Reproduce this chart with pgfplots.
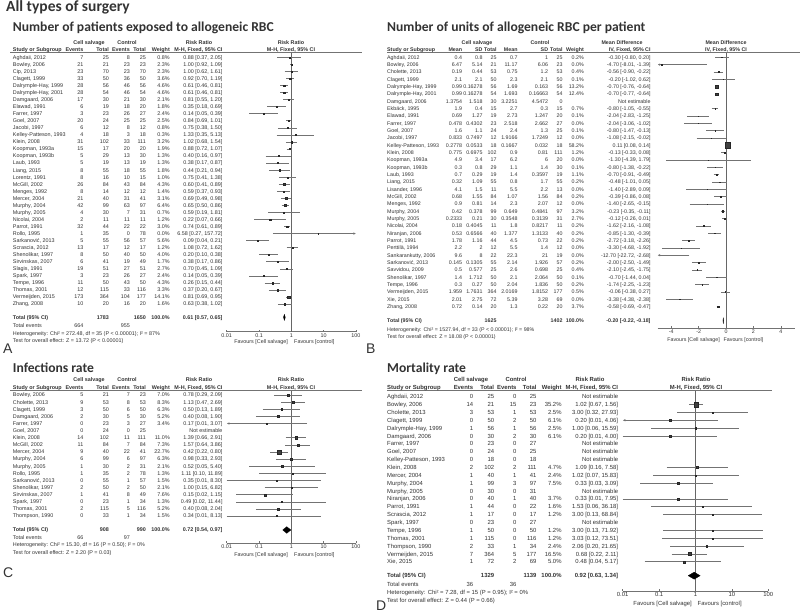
\documentclass[border=0pt]{standalone}
\usepackage{fontspec}
\setmainfont{Liberation Sans}
\newfontfamily\titlefont{Carlito}
\usepackage{pgfplots}
\pgfplotsset{compat=1.18}
\usetikzlibrary{arrows.meta}

\newcounter{rowi}
\newcommand\fA{\fontsize{5.4}{6}\selectfont}
\newcommand\fB{\fontsize{5.3}{6}\selectfont}
\newcommand\fD{\fontsize{5.9}{6.6}\selectfont}
\newcommand\ttl[2][13.6]{{\titlefont\bfseries\fontsize{#1}{#1}\selectfont #2}}

% risk ratio row: name, events, total, events, total, weight, CI
\newcommand\rr[7]{\stepcounter{rowi}%
  \pgfmathsetmacro\yy{\yz+(\therowi-1)*\pz+\bsh}%
  \node[anchor=base west] at (\cN,\yy) {#1};
  \node[anchor=base east] at (\cA,\yy) {#2};
  \node[anchor=base east] at (\cB,\yy) {#3};
  \node[anchor=base east] at (\cC,\yy) {#4};
  \node[anchor=base east] at (\cD,\yy) {#5};
  \node[anchor=base east] at (\cE,\yy) {#6};
  \node[anchor=base east] at (\cF,\yy) {#7};}
% mean difference row: name, mean, sd, total, mean, sd, total, weight, CI
\newcommand\md[9]{\stepcounter{rowi}%
  \pgfmathsetmacro\yy{\yz+(\therowi-1)*\pz+\bsh}%
  \node[anchor=base west] at (\cN,\yy) {#1};
  \node[anchor=base east] at (\cA,\yy) {#2};
  \node[anchor=base east] at (\cB,\yy) {#3};
  \node[anchor=base east] at (\cC,\yy) {#4};
  \node[anchor=base east] at (\cD,\yy) {#5};
  \node[anchor=base east] at (\cE,\yy) {#6};
  \node[anchor=base east] at (\cF,\yy) {#7};
  \node[anchor=base east] at (\cG,\yy) {#8};
  \node[anchor=base east] at (\cH,\yy) {#9};}

\pgfplotsset{
  forest/.style={scale only axis, clip=false, anchor=south west,
    axis x line*=bottom, axis y line=none, x axis line style={-},
    axis line style={black!55, line width=0.6pt},
    every tick/.style={black!55, line width=0.5pt}, major tick length=2pt, tick align=inside,
    ytick=\empty, unbounded coords=jump,
    xticklabel style={inner sep=0pt, text=black!80, yshift=-1.5pt}},
  ci/.style={black!55, line width=0.55pt, mark=none},
  arr/.style={black!55, line width=0.55pt, mark=none, -{Latex[length=2.6pt,width=2.4pt]}},
  nul/.style={black!60, line width=0.6pt, mark=none},
  sq/.style={scatter, only marks, mark=square*,
    scatter/use mapped color={draw=black!85, fill=black!75},
    mark options={line width=0.2pt},
    visualization depends on={0.15+0.33*sqrt(\thisrow{w}) \as \ms},
    scatter/@pre marker code/.append style={/tikz/mark size=\ms}},
  dia/.style={fill=black, draw=black, line width=0.3pt, mark=none},
}

\begin{document}
\begin{tikzpicture}
\useasboundingbox (0,0) rectangle (800pt,-615pt);

% ---------------- A: patients exposed ----------------
\begin{axis}[forest, xmode=log, at={(226.7pt,-331.7pt)}, width=129.3pt, height=279.7pt,
  xmin=0.01, xmax=100, ymin=-39.92, ymax=-0.248, xminorticks=false,
  xtick={0.01,0.1,1,10,100}, xticklabels={0.01,0.1,1,10,100},
  xticklabel style={font=\fA}]
\addplot[nul] coordinates {(1,-0.248) (1,-39.92)};
\addplot[ci] coordinates {
 (0.37,-1) (2.05,-1) (nan,nan) (0.92,-2) (1.09,-2) (nan,nan) (0.62,-3) (1.61,-3) (nan,nan)
 (0.70,-4) (1.19,-4) (nan,nan) (0.46,-5) (0.81,-5) (nan,nan) (0.46,-6) (0.81,-6) (nan,nan)
 (0.55,-7) (1.20,-7) (nan,nan) (0.18,-8) (0.69,-8) (nan,nan) (0.05,-9) (0.39,-9) (nan,nan)
 (0.69,-10) (1.01,-10) (nan,nan) (0.38,-11) (1.50,-11) (nan,nan) (0.35,-12) (5.13,-12) (nan,nan)
 (0.68,-13) (1.54,-13) (nan,nan) (0.72,-14) (1.07,-14) (nan,nan) (0.16,-15) (0.97,-15) (nan,nan)
 (0.17,-16) (0.87,-16) (nan,nan) (0.21,-17) (0.94,-17) (nan,nan) (0.41,-18) (1.38,-18) (nan,nan)
 (0.41,-19) (0.89,-19) (nan,nan) (0.37,-20) (0.93,-20) (nan,nan) (0.49,-21) (0.98,-21) (nan,nan)
 (0.50,-22) (0.86,-22) (nan,nan) (0.19,-23) (1.81,-23) (nan,nan) (0.07,-24) (0.66,-24) (nan,nan)
 (0.61,-25) (0.89,-25) (nan,nan) (0.04,-27) (0.21,-27) (nan,nan) (0.72,-28) (1.62,-28) (nan,nan)
 (0.10,-29) (0.38,-29) (nan,nan) (0.17,-30) (0.86,-30) (nan,nan) (0.45,-31) (1.09,-31) (nan,nan)
 (0.05,-32) (0.39,-32) (nan,nan) (0.15,-33) (0.44,-33) (nan,nan) (0.20,-34) (0.67,-34) (nan,nan)
 (0.69,-35) (0.95,-35) (nan,nan) (0.38,-36) (1.02,-36)};
\addplot[arr] coordinates {(0.27,-26) (100,-26)};
\addplot[sq] table[row sep=\\] {x y w\\
 0.88 -1 0.8\\ 1.00 -2 2.3\\ 1.00 -3 2.3\\ 0.92 -4 3.6\\ 0.61 -5 4.6\\ 0.61 -6 4.6\\
 0.81 -7 2.1\\ 0.35 -8 1.8\\ 0.14 -9 2.4\\ 0.84 -10 2.5\\ 0.75 -11 0.8\\ 1.33 -12 0.3\\
 1.02 -13 3.2\\ 0.88 -14 1.9\\ 0.40 -15 1.3\\ 0.38 -16 1.3\\ 0.44 -17 1.8\\ 0.75 -18 1.0\\
 0.60 -19 4.3\\ 0.59 -20 1.4\\ 0.69 -21 3.1\\ 0.65 -22 6.4\\ 0.59 -23 0.7\\ 0.22 -24 1.2\\
 0.74 -25 3.0\\ 6.58 -26 0.0\\ 0.09 -27 5.6\\ 1.08 -28 1.2\\ 0.20 -29 4.0\\ 0.38 -30 1.7\\
 0.70 -31 2.7\\ 0.14 -32 2.4\\ 0.26 -33 4.3\\ 0.37 -34 3.3\\ 0.81 -35 14.1\\ 0.63 -36 1.6\\};
\addplot[dia] coordinates {(0.57,-37.88) (0.61,-37.45) (0.65,-37.88) (0.61,-38.31) (0.57,-37.88)};
\end{axis}

% ---------------- B: units per patient ----------------
\begin{axis}[forest, at={(657.5pt,-328.3pt)}, width=137pt, height=276pt,
  xmin=-5, xmax=5, ymin=-37.97, ymax=-0.318,
  xtick={-4,-2,0,2,4}, xticklabels={-4,-2,0,2,4}, xticklabel style={font=\fB}]
\addplot[nul] coordinates {(0,-0.318) (0,-37.97)};
\addplot[ci] coordinates {
 (-0.80,-1) (0.20,-1) (nan,nan) (-0.90,-3) (-0.22,-3) (nan,nan) (-1.02,-4) (0.62,-4) (nan,nan)
 (-0.76,-5) (-0.64,-5) (nan,nan) (-0.77,-6) (-0.64,-6) (nan,nan) (-1.05,-8) (-0.55,-8) (nan,nan)
 (-2.83,-9) (-1.25,-9) (nan,nan) (-3.06,-10) (-1.02,-10) (nan,nan) (-1.47,-11) (-0.13,-11) (nan,nan)
 (-2.15,-12) (-0.02,-12) (nan,nan) (0.08,-13) (0.14,-13) (nan,nan) (-0.33,-14) (0.08,-14) (nan,nan)
 (-4.39,-15) (1.79,-15) (nan,nan) (-1.38,-16) (-0.22,-16) (nan,nan) (-0.91,-17) (-0.49,-17) (nan,nan)
 (-1.01,-18) (0.05,-18) (nan,nan) (-2.89,-19) (0.09,-19) (nan,nan) (-0.86,-20) (0.08,-20) (nan,nan)
 (-2.65,-21) (-0.15,-21) (nan,nan) (-0.35,-22) (-0.11,-22) (nan,nan) (-0.26,-23) (0.01,-23) (nan,nan)
 (-2.16,-24) (-1.08,-24) (nan,nan) (-1.30,-25) (-0.39,-25) (nan,nan) (-3.18,-26) (-2.26,-26) (nan,nan)
 (-4.68,-27) (-1.92,-27) (nan,nan) (-2.50,-29) (-1.49,-29) (nan,nan) (-2.45,-30) (-1.75,-30) (nan,nan)
 (-1.44,-31) (0.04,-31) (nan,nan) (-2.25,-32) (-1.23,-32) (nan,nan) (-0.38,-33) (0.27,-33) (nan,nan)
 (-4.38,-34) (-2.38,-34) (nan,nan) (-0.69,-35) (-0.47,-35)};
\addplot[arr] coordinates {(-1.39,-2) (-5,-2)};
\addplot[arr] coordinates {(-2.68,-28) (-5,-28)};
\addplot[sq] table[row sep=\\] {x y w\\
 -0.30 -1 0.2\\ -4.70 -2 0.0\\ -0.56 -3 0.4\\ -0.20 -4 0.1\\ -0.70 -5 13.2\\ -0.70 -6 12.4\\
 -0.80 -8 0.7\\ -2.04 -9 0.1\\ -2.04 -10 0.0\\ -0.80 -11 0.1\\ -1.08 -12 0.0\\ 0.11 -13 58.2\\
 -0.13 -14 1.2\\ -1.30 -15 0.0\\ -0.80 -16 0.1\\ -0.70 -17 1.1\\ -0.48 -18 0.2\\ -1.40 -19 0.0\\
 -0.39 -20 0.2\\ -1.40 -21 0.0\\ -0.23 -22 3.2\\ -0.12 -23 2.7\\ -1.62 -24 0.2\\ -0.85 -25 0.2\\
 -2.72 -26 0.2\\ -3.30 -27 0.0\\ -2.00 -29 0.2\\ -2.10 -30 0.4\\ -0.70 -31 0.1\\ -1.74 -32 0.2\\
 -0.06 -33 0.5\\ -3.38 -34 0.0\\ -0.58 -35 3.7\\};
\addplot[dia] coordinates {(-0.22,-36.93) (-0.20,-36.5) (-0.18,-36.93) (-0.20,-37.36) (-0.22,-36.93)};
\end{axis}

% ---------------- C: infections ----------------
\begin{axis}[forest, xmode=log, at={(226.7pt,-543.3pt)}, width=129.3pt, height=153.3pt,
  xmin=0.01, xmax=100, ymin=-21.83, ymax=-0.298, xminorticks=false,
  xtick={0.01,0.1,1,10,100}, xticklabels={0.01,0.1,1,10,100},
  xticklabel style={font=\fA}]
\addplot[nul] coordinates {(1,-0.298) (1,-21.83)};
\addplot[ci] coordinates {
 (0.29,-1) (2.09,-1) (nan,nan) (0.47,-2) (2.69,-2) (nan,nan) (0.13,-3) (1.89,-3) (nan,nan)
 (0.08,-4) (1.90,-4) (nan,nan) (0.66,-7) (2.91,-7) (nan,nan) (0.64,-8) (3.86,-8) (nan,nan)
 (0.22,-9) (0.80,-9) (nan,nan) (0.33,-10) (2.93,-10) (nan,nan) (0.05,-11) (5.40,-11) (nan,nan)
 (0.10,-12) (11.89,-12) (nan,nan) (0.01,-13) (8.30,-13) (nan,nan) (0.15,-14) (6.82,-14) (nan,nan)
 (0.02,-15) (1.15,-15) (nan,nan) (0.02,-16) (11.44,-16) (nan,nan) (0.08,-17) (2.04,-17) (nan,nan)
 (0.01,-18) (8.13,-18)};
\addplot[arr] coordinates {(3.07,-5) (0.01,-5)};
\addplot[sq] table[row sep=\\] {x y w\\
 0.78 -1 7.0\\ 1.13 -2 8.3\\ 0.50 -3 6.3\\ 0.40 -4 5.2\\ 0.17 -5 3.4\\ 1.39 -7 11.0\\
 1.57 -8 7.3\\ 0.42 -9 22.7\\ 0.98 -10 6.3\\ 0.52 -11 2.1\\ 1.11 -12 1.3\\ 0.35 -13 1.5\\
 1.00 -14 2.1\\ 0.15 -15 7.6\\ 0.49 -16 1.3\\ 0.40 -17 5.2\\ 0.34 -18 1.5\\};
\addplot[dia] coordinates {(0.54,-19.96) (0.72,-19.5) (0.97,-19.96) (0.72,-20.42) (0.54,-19.96)};
\end{axis}

% ---------------- D: mortality ----------------
\begin{axis}[forest, xmode=log, at={(622.7pt,-591pt)}, width=145.6pt, height=200.3pt,
  xmin=0.01, xmax=100, ymin=-25.72, ymax=-0.237, xminorticks=false,
  xtick={0.01,0.1,1,10,100}, xticklabels={0.01,0.1,1,10,100},
  xticklabel style={font=\fD}]
\addplot[nul] coordinates {(1,-0.237) (1,-25.72)};
\addplot[ci] coordinates {
 (0.67,-2) (1.56,-2) (nan,nan) (0.32,-3) (27.93,-3) (nan,nan) (0.06,-5) (15.59,-5) (nan,nan)
 (0.01,-6) (4.00,-6) (nan,nan) (0.16,-10) (7.58,-10) (nan,nan) (0.07,-11) (15.83,-11) (nan,nan)
 (0.03,-12) (3.09,-12) (nan,nan) (0.01,-14) (7.95,-14) (nan,nan) (0.06,-15) (36.18,-15) (nan,nan)
 (0.13,-16) (68.84,-16) (nan,nan) (0.13,-18) (71.92,-18) (nan,nan) (0.12,-19) (73.51,-19) (nan,nan)
 (0.20,-20) (21.65,-20) (nan,nan) (0.22,-21) (2.11,-21) (nan,nan) (0.04,-22) (5.17,-22)};
\addplot[arr] coordinates {(4.06,-4) (0.01,-4)};
\addplot[sq] table[row sep=\\] {x y w\\
 1.02 -2 35.2\\ 3.00 -3 2.5\\ 0.20 -4 6.1\\ 1.00 -5 2.5\\ 0.20 -6 6.1\\ 1.09 -10 4.7\\
 1.02 -11 2.4\\ 0.33 -12 7.5\\ 0.33 -14 3.7\\ 1.53 -15 1.6\\ 3.00 -16 1.2\\ 3.00 -18 1.2\\
 3.03 -19 1.2\\ 2.06 -20 2.4\\ 0.68 -21 16.5\\ 0.48 -22 5.0\\};
\addplot[dia] coordinates {(0.63,-23.77) (0.92,-23.32) (1.34,-23.77) (0.92,-24.22) (0.63,-23.77)};
\end{axis}

% ---------------- text, in pixel units (y down) ----------------
\begin{scope}[x=1pt, y=-1pt, every node/.style={inner sep=0pt, text=black!80}]
\node[anchor=base west] at (6,11.2) {\ttl[15.5]{All types of surgery}};
\node[anchor=base west] at (12.7,31.5) {\ttl{Number of patients exposed to allogeneic RBC}};
\node[anchor=base west] at (387,31.5) {\ttl{Number of units of allogeneic RBC per patient}};
\node[anchor=base west] at (12.7,372) {\ttl{Infections rate}};
\node[anchor=base west] at (387,372) {\ttl{Mortality rate}};
\begin{scope}[every node/.append style={font=\fontsize{14}{14}\selectfont}]
\node[anchor=base west] at (3,353) {A};
\node[anchor=base west] at (366,353) {B};
\node[anchor=base west] at (3,577) {C};
\node[anchor=base west] at (376,610) {D};
\end{scope}
\draw[black!55, line width=0.6pt] (10,52) -- (362,52);
\draw[black!55, line width=0.6pt] (387,52.3) -- (800,52.3);
\draw[black!55, line width=0.6pt] (10,390) -- (362,390);
\draw[black!55, line width=0.6pt] (387,390.7) -- (772,390.7);

% --- A table
\begin{scope}[every node/.append style={font=\fA}]
\def\cN{12.7}\def\cA{83.5}\def\cB{109}\def\cC{130}\def\cD{146}\def\cE{170}\def\cF{222.7}
\def\yz{57.3}\def\pz{7.05}\def\bsh{1.9}
\begin{scope}[every node/.append style={font=\fA\bfseries}]
\node[anchor=base] at (89,44.2) {Cell salvage};
\node[anchor=base] at (127,44.2) {Control};
\node[anchor=base] at (199,44.2) {Risk Ratio};
\node[anchor=base] at (291,44.2) {Risk Ratio};
\node[anchor=base west] at (\cN,51.2) {Study or Subgroup};
\node[anchor=base east] at (\cA,51.2) {Events};
\node[anchor=base east] at (\cB,51.2) {Total};
\node[anchor=base east] at (\cC,51.2) {Events};
\node[anchor=base east] at (\cD,51.2) {Total};
\node[anchor=base east] at (\cE,51.2) {Weight};
\node[anchor=base east] at (\cF,51.2) {M-H, Fixed, 95\% CI};
\node[anchor=base] at (291,51.2) {M-H, Fixed, 95\% CI};
\end{scope}
\setcounter{rowi}{0}
\rr{Aghdaii, 2012}{7}{25}{8}{25}{0.8\%}{0.88 [0.37, 2.05]}
\rr{Bowley, 2006}{21}{21}{23}{23}{2.3\%}{1.00 [0.92, 1.09]}
\rr{Cip, 2013}{23}{70}{23}{70}{2.3\%}{1.00 [0.62, 1.61]}
\rr{Clagett, 1999}{33}{50}{36}{50}{3.6\%}{0.92 [0.70, 1.19]}
\rr{Dalrymple-Hay, 1999}{28}{56}{46}{56}{4.6\%}{0.61 [0.46, 0.81]}
\rr{Dalrymple-Hay, 2001}{28}{54}{46}{54}{4.6\%}{0.61 [0.46, 0.81]}
\rr{Damgaard, 2006}{17}{30}{21}{30}{2.1\%}{0.81 [0.55, 1.20]}
\rr{Elawad, 1991}{6}{19}{18}{20}{1.8\%}{0.35 [0.18, 0.69]}
\rr{Farrer, 1997}{3}{23}{26}{27}{2.4\%}{0.14 [0.05, 0.39]}
\rr{Goel, 2007}{20}{24}{25}{25}{2.5\%}{0.84 [0.69, 1.01]}
\rr{Jacobi, 1997}{6}{12}{8}{12}{0.8\%}{0.75 [0.38, 1.50]}
\rr{Kelley-Patteson, 1993}{4}{18}{3}{18}{0.3\%}{1.33 [0.35, 5.13]}
\rr{Klein, 2008}{31}{102}{33}{111}{3.2\%}{1.02 [0.68, 1.54]}
\rr{Koopman, 1993a}{15}{17}{20}{20}{1.9\%}{0.88 [0.72, 1.07]}
\rr{Koopman, 1993b}{5}{29}{13}{30}{1.3\%}{0.40 [0.16, 0.97]}
\rr{Laub, 1993}{5}{19}{13}{19}{1.3\%}{0.38 [0.17, 0.87]}
\rr{Liang, 2015}{8}{55}{18}{55}{1.8\%}{0.44 [0.21, 0.94]}
\rr{Lorentz, 1991}{8}{16}{10}{15}{1.0\%}{0.75 [0.41, 1.38]}
\rr{McGill, 2002}{26}{84}{43}{84}{4.3\%}{0.60 [0.41, 0.89]}
\rr{Menges, 1992}{8}{14}{12}{12}{1.4\%}{0.59 [0.37, 0.93]}
\rr{Mercer, 2004}{21}{40}{31}{41}{3.1\%}{0.69 [0.49, 0.98]}
\rr{Murphy, 2004}{42}{99}{63}{97}{6.4\%}{0.65 [0.50, 0.86]}
\rr{Murphy, 2005}{4}{30}{7}{31}{0.7\%}{0.59 [0.19, 1.81]}
\rr{Nicolai, 2004}{2}{11}{11}{11}{1.2\%}{0.22 [0.07, 0.66]}
\rr{Parrot, 1991}{32}{44}{22}{22}{3.0\%}{0.74 [0.61, 0.89]}
\rr{Rollo, 1995}{1}{35}{0}{78}{0.0\%}{6.58 [0.27, 157.72]}
\rr{Sarkanović, 2013}{5}{55}{56}{57}{5.6\%}{0.09 [0.04, 0.21]}
\rr{Scrascia, 2012}{13}{17}{12}{17}{1.2\%}{1.08 [0.72, 1.62]}
\rr{Shenolikar, 1997}{8}{50}{40}{50}{4.0\%}{0.20 [0.10, 0.38]}
\rr{Sirvinskas, 2007}{6}{41}{19}{49}{1.7\%}{0.38 [0.17, 0.86]}
\rr{Slagis, 1991}{19}{51}{27}{51}{2.7\%}{0.70 [0.45, 1.09]}
\rr{Spark, 1997}{3}{23}{26}{27}{2.4\%}{0.14 [0.05, 0.39]}
\rr{Tempe, 1996}{11}{50}{43}{50}{4.3\%}{0.26 [0.15, 0.44]}
\rr{Thomas, 2001}{12}{115}{33}{116}{3.3\%}{0.37 [0.20, 0.67]}
\rr{Vermeijden, 2015}{173}{364}{104}{177}{14.1\%}{0.81 [0.69, 0.95]}
\rr{Zhang, 2008}{10}{20}{16}{20}{1.6\%}{0.63 [0.38, 1.02]}
\begin{scope}[every node/.append style={font=\fA\bfseries}]
\node[anchor=base west] at (\cN,319.2) {Total (95\% CI)};
\node[anchor=base east] at (\cB,319.2) {1783};
\node[anchor=base east] at (\cD,319.2) {1650};
\node[anchor=base east] at (\cE,319.2) {100.0\%};
\node[anchor=base east] at (\cF,319.2) {0.61 [0.57, 0.65]};
\end{scope}
\node[anchor=base west] at (\cN,327.9) {Total events};
\node[anchor=base east] at (\cA,327.9) {664};
\node[anchor=base east] at (\cC,327.9) {955};
\node[anchor=base west] at (\cN,335.2) {Heterogeneity: Chi² = 272.48, df = 35 (P < 0.00001); I² = 87\%};
\node[anchor=base west] at (\cN,342.6) {Test for overall effect: Z = 13.72 (P < 0.00001)};
\node[anchor=base east] at (288,343.6) {Favours [Cell salvage]};
\node[anchor=base west] at (294,343.6) {Favours [control]};
\end{scope}

% --- B table
\begin{scope}[every node/.append style={font=\fB}]
\def\cN{387}\def\cA{462.3}\def\cB{482.7}\def\cC{496.7}\def\cD{517.7}\def\cE{548.3}\def\cF{562.7}\def\cG{584}\def\cH{650.7}
\def\yz{57.3}\def\pz{7.33}\def\bsh{1.9}
\begin{scope}[every node/.append style={font=\fB\bfseries}]
\node[anchor=base] at (477,44.2) {Cell salvage};
\node[anchor=base] at (540,44.2) {Control};
\node[anchor=base] at (622,44.2) {Mean Difference};
\node[anchor=base] at (726,44.2) {Mean Difference};
\node[anchor=base west] at (\cN,51.2) {Study or Subgroup};
\node[anchor=base east] at (\cA,51.2) {Mean};
\node[anchor=base east] at (\cB,51.2) {SD};
\node[anchor=base east] at (\cC,51.2) {Total};
\node[anchor=base east] at (\cD,51.2) {Mean};
\node[anchor=base east] at (\cE,51.2) {SD};
\node[anchor=base east] at (\cF,51.2) {Total};
\node[anchor=base east] at (\cG,51.2) {Weight};
\node[anchor=base east] at (\cH,51.2) {IV, Fixed, 95\% CI};
\node[anchor=base] at (726,51.2) {IV, Fixed, 95\% CI};
\end{scope}
\setcounter{rowi}{0}
\md{Aghdaii, 2012}{0.4}{0.8}{25}{0.7}{1}{25}{0.2\%}{-0.30 [-0.80, 0.20]}
\md{Bowley, 2006}{6.47}{5.14}{21}{11.17}{6.06}{23}{0.0\%}{-4.70 [-8.01, -1.39]}
\md{Cholette, 2013}{0.19}{0.44}{53}{0.75}{1.2}{53}{0.4\%}{-0.56 [-0.90, -0.22]}
\md{Clagett, 1999}{2.1}{2.1}{50}{2.3}{2.1}{50}{0.1\%}{-0.20 [-1.02, 0.62]}
\md{Dalrymple-Hay, 1999}{0.99}{0.16278}{56}{1.69}{0.163}{56}{13.2\%}{-0.70 [-0.76, -0.64]}
\md{Dalrymple-Hay, 2001}{0.99}{0.16278}{54}{1.693}{0.16663}{54}{12.4\%}{-0.70 [-0.77, -0.64]}
\md{Damgaard, 2006}{1.3754}{1.518}{30}{3.2251}{4.5472}{0}{}{Not estimable}
\md{Ekbäck, 1995}{1.9}{0.4}{15}{2.7}{0.3}{15}{0.7\%}{-0.80 [-1.05, -0.55]}
\md{Elawad, 1991}{0.69}{1.27}{19}{2.73}{1.247}{20}{0.1\%}{-2.04 [-2.83, -1.25]}
\md{Farrer, 1997}{0.478}{0.4302}{23}{2.518}{2.662}{27}{0.0\%}{-2.04 [-3.06, -1.02]}
\md{Goel, 2007}{1.6}{1.1}{24}{2.4}{1.3}{25}{0.1\%}{-0.80 [-1.47, -0.13]}
\md{Jacobi, 1997}{0.833}{0.7497}{12}{1.9166}{1.7249}{12}{0.0\%}{-1.08 [-2.15, -0.02]}
\md{Kelley-Patteson, 1993}{0.2778}{0.0533}{18}{0.1667}{0.032}{18}{58.2\%}{0.11 [0.08, 0.14]}
\md{Klein, 2008}{0.775}{0.6975}{102}{0.9}{0.81}{111}{1.2\%}{-0.13 [-0.33, 0.08]}
\md{Koopman, 1993a}{4.9}{3.4}{17}{6.2}{6}{20}{0.0\%}{-1.30 [-4.39, 1.79]}
\md{Koopman, 1993b}{0.3}{0.8}{29}{1.1}{1.4}{30}{0.1\%}{-0.80 [-1.38, -0.22]}
\md{Laub, 1993}{0.7}{0.29}{19}{1.4}{0.3597}{19}{1.1\%}{-0.70 [-0.91, -0.49]}
\md{Liang, 2015}{0.32}{1.09}{55}{0.8}{1.7}{55}{0.2\%}{-0.48 [-1.01, 0.05]}
\md{Lisander, 1996}{4.1}{1.5}{11}{5.5}{2.2}{13}{0.0\%}{-1.40 [-2.89, 0.09]}
\md{McGill, 2002}{0.68}{1.55}{84}{1.07}{1.56}{84}{0.2\%}{-0.39 [-0.86, 0.08]}
\md{Menges, 1992}{0.9}{0.81}{14}{2.3}{2.07}{12}{0.0\%}{-1.40 [-2.65, -0.15]}
\md{Murphy, 2004}{0.42}{0.378}{99}{0.649}{0.4841}{97}{3.2\%}{-0.23 [-0.35, -0.11]}
\md{Murphy, 2005}{0.2333}{0.21}{30}{0.3548}{0.3139}{31}{2.7\%}{-0.12 [-0.26, 0.01]}
\md{Nicolai, 2004}{0.18}{0.4045}{11}{1.8}{0.8217}{11}{0.2\%}{-1.62 [-2.16, -1.08]}
\md{Niranjan, 2006}{0.53}{0.6566}{40}{1.377}{1.3133}{40}{0.2\%}{-0.85 [-1.30, -0.39]}
\md{Parrot, 1991}{1.78}{1.16}{44}{4.5}{0.73}{22}{0.2\%}{-2.72 [-3.18, -2.26]}
\md{Perttilä, 1994}{2.2}{2}{12}{5.5}{1.4}{12}{0.0\%}{-3.30 [-4.68, -1.92]}
\md{Sankarankutty, 2006}{9.6}{8}{22}{22.3}{21}{19}{0.0\%}{-12.70 [-22.72, -2.68]}
\md{Sarkanović, 2013}{0.145}{0.1305}{55}{2.14}{1.926}{57}{0.2\%}{-2.00 [-2.50, -1.49]}
\md{Savvidou, 2009}{0.5}{0.577}{25}{2.6}{0.698}{25}{0.4\%}{-2.10 [-2.45, -1.75]}
\md{Shenolikar, 1997}{1.4}{1.712}{50}{2.1}{2.064}{50}{0.1\%}{-0.70 [-1.44, 0.04]}
\md{Tempe, 1996}{0.3}{0.27}{50}{2.04}{1.836}{50}{0.2\%}{-1.74 [-2.25, -1.23]}
\md{Vermeijden, 2015}{1.959}{1.7631}{364}{2.0169}{1.8152}{177}{0.5\%}{-0.06 [-0.38, 0.27]}
\md{Xie, 2015}{2.01}{2.75}{72}{5.39}{3.28}{69}{0.0\%}{-3.38 [-4.38, -2.38]}
\md{Zhang, 2008}{0.72}{0.14}{20}{1.3}{0.22}{20}{3.7\%}{-0.58 [-0.69, -0.47]}
\begin{scope}[every node/.append style={font=\fB\bfseries}]
\node[anchor=base west] at (\cN,322.6) {Total (95\% CI)};
\node[anchor=base east] at (\cC,322.6) {1625};
\node[anchor=base east] at (\cF,322.6) {1402};
\node[anchor=base east] at (\cG,322.6) {100.0\%};
\node[anchor=base east] at (\cH,322.6) {-0.20 [-0.22, -0.18]};
\end{scope}
\node[anchor=base west] at (\cN,331.2) {Heterogeneity: Chi² = 1527.94, df = 33 (P < 0.00001); I² = 98\%};
\node[anchor=base west] at (\cN,338.6) {Test for overall effect: Z = 18.08 (P < 0.00001)};
\node[anchor=base east] at (720,341.2) {Favours [Cell salvage]};
\node[anchor=base west] at (723.5,341.2) {Favours [control]};
\end{scope}

% --- C table
\begin{scope}[every node/.append style={font=\fA}]
\def\cN{12.7}\def\cA{83.5}\def\cB{109}\def\cC{130}\def\cD{146}\def\cE{170}\def\cF{222.7}
\def\yz{395}\def\pz{7.12}\def\bsh{1.9}
\begin{scope}[every node/.append style={font=\fA\bfseries}]
\node[anchor=base] at (89,381.9) {Cell salvage};
\node[anchor=base] at (127,381.9) {Control};
\node[anchor=base] at (199,381.9) {Risk Ratio};
\node[anchor=base] at (291,381.9) {Risk Ratio};
\node[anchor=base west] at (\cN,389.2) {Study or Subgroup};
\node[anchor=base east] at (\cA,389.2) {Events};
\node[anchor=base east] at (\cB,389.2) {Total};
\node[anchor=base east] at (\cC,389.2) {Events};
\node[anchor=base east] at (\cD,389.2) {Total};
\node[anchor=base east] at (\cE,389.2) {Weight};
\node[anchor=base east] at (\cF,389.2) {M-H, Fixed, 95\% CI};
\node[anchor=base] at (291,389.2) {M-H, Fixed, 95\% CI};
\end{scope}
\setcounter{rowi}{0}
\rr{Bowley, 2006}{5}{21}{7}{23}{7.0\%}{0.78 [0.29, 2.09]}
\rr{Cholette, 2013}{9}{53}{8}{53}{8.3\%}{1.13 [0.47, 2.69]}
\rr{Clagett, 1999}{3}{50}{6}{50}{6.3\%}{0.50 [0.13, 1.89]}
\rr{Damgaard, 2006}{2}{30}{5}{30}{5.2\%}{0.40 [0.08, 1.90]}
\rr{Farrer, 1997}{0}{23}{3}{27}{3.4\%}{0.17 [0.01, 3.07]}
\rr{Goel, 2007}{0}{24}{0}{25}{}{Not estimable}
\rr{Klein, 2008}{14}{102}{11}{111}{11.0\%}{1.39 [0.66, 2.91]}
\rr{McGill, 2002}{11}{84}{7}{84}{7.3\%}{1.57 [0.64, 3.86]}
\rr{Mercer, 2004}{9}{40}{22}{41}{22.7\%}{0.42 [0.22, 0.80]}
\rr{Murphy, 2004}{6}{99}{6}{97}{6.3\%}{0.98 [0.33, 2.93]}
\rr{Murphy, 2005}{1}{30}{2}{31}{2.1\%}{0.52 [0.05, 5.40]}
\rr{Rollo, 1995}{1}{35}{2}{78}{1.3\%}{1.11 [0.10, 11.89]}
\rr{Sarkanović, 2013}{0}{55}{1}{57}{1.5\%}{0.35 [0.01, 8.30]}
\rr{Shenolikar, 1997}{2}{50}{2}{50}{2.1\%}{1.00 [0.15, 6.82]}
\rr{Sirvinskas, 2007}{1}{41}{8}{49}{7.6\%}{0.15 [0.02, 1.15]}
\rr{Spark, 1997}{0}{23}{1}{34}{1.3\%}{0.49 [0.02, 11.44]}
\rr{Thomas, 2001}{2}{115}{5}{116}{5.2\%}{0.40 [0.08, 2.04]}
\rr{Thompson, 1990}{0}{33}{1}{34}{1.5\%}{0.34 [0.01, 8.13]}
\begin{scope}[every node/.append style={font=\fA\bfseries}]
\node[anchor=base west] at (\cN,531.9) {Total (95\% CI)};
\node[anchor=base east] at (\cB,531.9) {908};
\node[anchor=base east] at (\cD,531.9) {990};
\node[anchor=base east] at (\cE,531.9) {100.0\%};
\node[anchor=base east] at (\cF,531.9) {0.72 [0.54, 0.97]};
\end{scope}
\node[anchor=base west] at (\cN,539.4) {Total events};
\node[anchor=base east] at (\cA,539.4) {66};
\node[anchor=base east] at (\cC,539.4) {97};
\node[anchor=base west] at (\cN,546.7) {Heterogeneity: Chi² = 15.30, df = 16 (P = 0.50); I² = 0\%};
\node[anchor=base west] at (\cN,554) {Test for overall effect: Z = 2.20 (P = 0.03)};
\node[anchor=base east] at (288,556) {Favours [Cell salvage]};
\node[anchor=base west] at (294,556) {Favours [control]};
\end{scope}

% --- D table
\begin{scope}[every node/.append style={font=\fD}]
\def\cN{387}\def\cA{473.3}\def\cB{494.3}\def\cC{516.7}\def\cD{536.7}\def\cE{561.7}\def\cF{618.3}
\def\yz{396.7}\def\pz{7.86}\def\bsh{2.1}
\begin{scope}[every node/.append style={font=\fD\bfseries}]
\node[anchor=base] at (471,381.4) {Cell salvage};
\node[anchor=base] at (516,381.4) {Control};
\node[anchor=base] at (590,381.4) {Risk Ratio};
\node[anchor=base] at (696,381.4) {Risk Ratio};
\node[anchor=base west] at (\cN,389.4) {Study or Subgroup};
\node[anchor=base east] at (\cA,389.4) {Events};
\node[anchor=base east] at (\cB,389.4) {Total};
\node[anchor=base east] at (\cC,389.4) {Events};
\node[anchor=base east] at (\cD,389.4) {Total};
\node[anchor=base east] at (\cE,389.4) {Weight};
\node[anchor=base east] at (\cF,389.4) {M-H, Fixed, 95\% CI};
\node[anchor=base] at (696,389.4) {M-H, Fixed, 95\% CI};
\end{scope}
\setcounter{rowi}{0}
\rr{Aghdaii, 2012}{0}{25}{0}{25}{}{Not estimable}
\rr{Bowley, 2006}{14}{21}{15}{23}{35.2\%}{1.02 [0.67, 1.56]}
\rr{Cholette, 2013}{3}{53}{1}{53}{2.5\%}{3.00 [0.32, 27.93]}
\rr{Clagett, 1999}{0}{50}{2}{50}{6.1\%}{0.20 [0.01, 4.06]}
\rr{Dalrymple-Hay, 1999}{1}{56}{1}{56}{2.5\%}{1.00 [0.06, 15.59]}
\rr{Damgaard, 2006}{0}{30}{2}{30}{6.1\%}{0.20 [0.01, 4.00]}
\rr{Farrer, 1997}{0}{23}{0}{27}{}{Not estimable}
\rr{Goel, 2007}{0}{24}{0}{25}{}{Not estimable}
\rr{Kelley-Patteson, 1993}{0}{18}{0}{18}{}{Not estimable}
\rr{Klein, 2008}{2}{102}{2}{111}{4.7\%}{1.09 [0.16, 7.58]}
\rr{Mercer, 2004}{1}{40}{1}{41}{2.4\%}{1.02 [0.07, 15.83]}
\rr{Murphy, 2004}{1}{99}{3}{97}{7.5\%}{0.33 [0.03, 3.09]}
\rr{Murphy, 2005}{0}{30}{0}{31}{}{Not estimable}
\rr{Niranjan, 2006}{0}{40}{1}{40}{3.7\%}{0.33 [0.01, 7.95]}
\rr{Parrot, 1991}{1}{44}{0}{22}{1.6\%}{1.53 [0.06, 36.18]}
\rr{Scrascia, 2012}{1}{17}{0}{17}{1.2\%}{3.00 [0.13, 68.84]}
\rr{Spark, 1997}{0}{23}{0}{27}{}{Not estimable}
\rr{Tempe, 1996}{1}{50}{0}{50}{1.2\%}{3.00 [0.13, 71.92]}
\rr{Thomas, 2001}{1}{115}{0}{116}{1.2\%}{3.03 [0.12, 73.51]}
\rr{Thompson, 1990}{2}{33}{1}{34}{2.4\%}{2.06 [0.20, 21.65]}
\rr{Vermeijden, 2015}{7}{364}{5}{177}{16.5\%}{0.68 [0.22, 2.11]}
\rr{Xie, 2015}{1}{72}{2}{69}{5.0\%}{0.48 [0.04, 5.17]}
\begin{scope}[every node/.append style={font=\fD\bfseries}]
\node[anchor=base west] at (\cN,577.8) {Total (95\% CI)};
\node[anchor=base east] at (\cB,577.8) {1329};
\node[anchor=base east] at (\cD,577.8) {1139};
\node[anchor=base east] at (\cE,577.8) {100.0\%};
\node[anchor=base east] at (\cF,577.8) {0.92 [0.63, 1.34]};
\end{scope}
\node[anchor=base west] at (\cN,586.6) {Total events};
\node[anchor=base east] at (\cA,586.6) {36};
\node[anchor=base east] at (\cC,586.6) {36};
\node[anchor=base west] at (\cN,594.8) {Heterogeneity: Chi² = 7.28, df = 15 (P = 0.95); I² = 0\%};
\node[anchor=base west] at (\cN,602.8) {Test for overall effect: Z = 0.44 (P = 0.66)};
\node[anchor=base east] at (692,605.4) {Favours [Cell salvage]};
\node[anchor=base west] at (697.5,605.4) {Favours [control]};
\end{scope}
\end{scope}
\end{tikzpicture}
\end{document}
